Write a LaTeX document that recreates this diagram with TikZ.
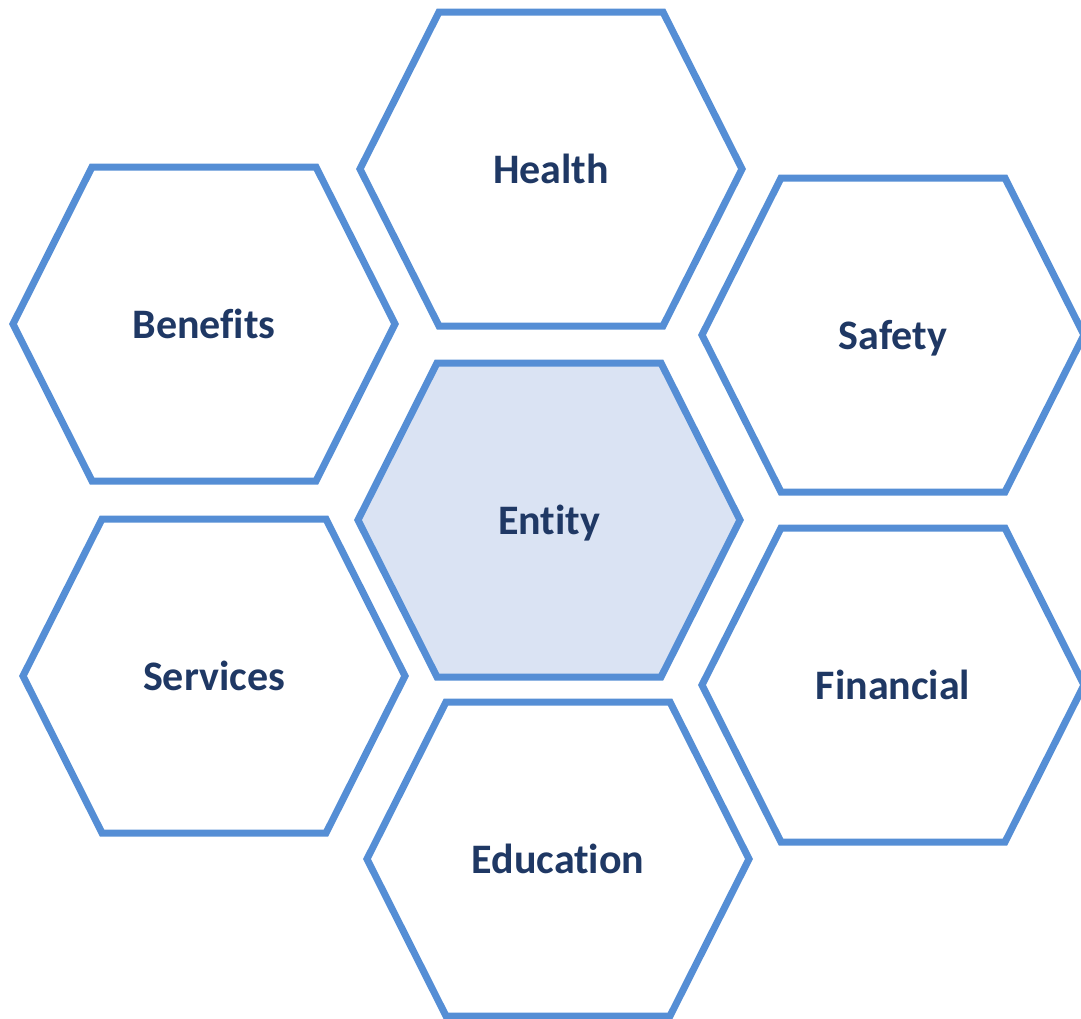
\documentclass[tikz,border=0pt]{standalone}
\usepackage{fontspec}
\setmainfont{Carlito}[Ligatures={NoCommon}]
\definecolor{hexline}{RGB}{85,142,213}
\definecolor{hexfill}{RGB}{218,227,243}
\definecolor{hextext}{RGB}{31,56,100}
\tikzset{
  hexedge/.style={draw=hexline,line width=7pt,line join=miter},
  hexlabel/.style={text=hextext,font=\fontsize{42}{46}\selectfont\bfseries,inner sep=0pt,text height=27pt,text depth=0pt}
}
\newcommand{\hexcell}[5]{%
  \path[hexedge,#5] (#2-191,#3) -- (#2-112,#3-157) -- (#2+112,#3-157) -- (#2+191,#3) -- (#2+112,#3+157) -- (#2-112,#3+157) -- cycle;
  \node[hexlabel] (#1) at (#2,#3+1) {#4};
}
\begin{document}
\begin{tikzpicture}[x=1pt,y=-1pt]
\useasboundingbox (0,0) rectangle (1081,1018);
\fill[white] (0,0) rectangle (1081,1018);
\hexcell{health}{551}{169}{Health}{}
\hexcell{benefits}{204}{324}{Benefits}{}
\hexcell{safety}{893}{335}{Safety}{}
\hexcell{entity}{549}{520}{Entity}{fill=hexfill}
\hexcell{services}{214}{676}{Services}{}
\hexcell{financial}{893}{685}{Financial}{}
\hexcell{education}{558}{859}{Education}{}
\end{tikzpicture}
\end{document}
